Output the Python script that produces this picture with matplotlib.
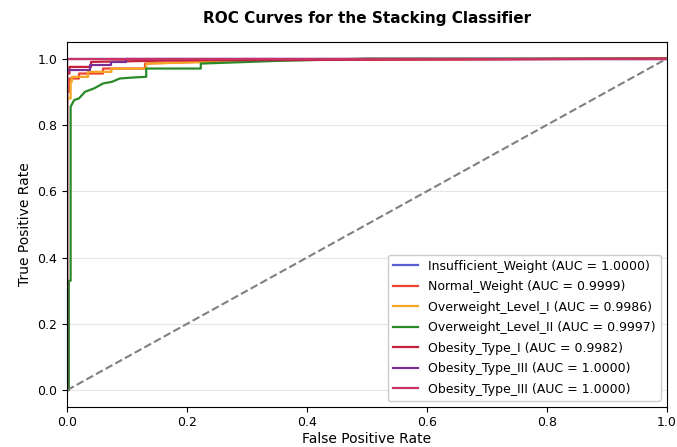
import matplotlib.pyplot as plt

# ROC points (FPR, TPR) for each class
classes = ['Insufficient_Weight', 'Normal_Weight', 'Overweight_Level_I',
           'Overweight_Level_II', 'Obesity_Type_I', 'Obesity_Type_III',
           'Obesity_Type_III']
aucs = [1.0000, 0.9999, 0.9986, 0.9997, 0.9982, 1.0000, 1.0000]
colors = ['#5b5bd6', '#ee4433', '#f5a623', '#2a8a2a', '#c8203c', '#7a2f96', '#c83264']

fpr_insuff = [0.0, 0.0, 1.0]
tpr_insuff = [0.0, 1.0, 1.0]

fpr_normal = [0.0, 0.0, 0.004, 0.004, 0.02, 0.02, 0.06, 0.06, 0.13, 0.13, 0.3, 1.0]
tpr_normal = [0.0, 0.90, 0.90, 0.94, 0.94, 0.955, 0.955, 0.97, 0.97, 0.985, 0.995, 1.0]

fpr_ow1 = [0.0, 0.0, 0.006, 0.006, 0.008, 0.008, 0.035, 0.035, 0.074, 0.074, 0.132, 0.132, 0.4, 1.0]
tpr_ow1 = [0.0, 0.88, 0.88, 0.93, 0.93, 0.945, 0.945, 0.96, 0.96, 0.97, 0.97, 0.985, 0.997, 1.0]

fpr_ow2 = [0.0, 0.003, 0.003, 0.006, 0.006, 0.012, 0.02, 0.03, 0.045, 0.06, 0.075, 0.088,
           0.11, 0.132, 0.132, 0.223, 0.223, 0.35, 0.5, 1.0]
tpr_ow2 = [0.0, 0.0, 0.33, 0.33, 0.855, 0.875, 0.88, 0.90, 0.91, 0.925, 0.93, 0.94,
           0.943, 0.945, 0.97, 0.97, 0.985, 0.993, 1.0, 1.0]

fpr_ob1 = [0.0, 0.0, 0.004, 0.004, 0.04, 0.04, 0.2, 1.0]
tpr_ob1 = [0.0, 0.955, 0.955, 0.975, 0.975, 0.99, 0.995, 1.0]

fpr_ob3a = [0.0, 0.0, 0.038, 0.038, 0.074, 0.074, 0.099, 0.099, 1.0]
tpr_ob3a = [0.0, 0.965, 0.965, 0.98, 0.98, 0.99, 0.99, 1.0, 1.0]

fpr_ob3b = [0.0, 0.0, 1.0]
tpr_ob3b = [0.0, 1.0, 1.0]

fprs = [fpr_insuff, fpr_normal, fpr_ow1, fpr_ow2, fpr_ob1, fpr_ob3a, fpr_ob3b]
tprs = [tpr_insuff, tpr_normal, tpr_ow1, tpr_ow2, tpr_ob1, tpr_ob3a, tpr_ob3b]

fig = plt.figure(figsize=(6.77, 4.47), dpi=100)
ax = fig.add_axes([0.099, 0.09, 0.886, 0.816])

for name, auc, c, f, t in zip(classes, aucs, colors, fprs, tprs):
    ax.plot(f, t, color=c, lw=1.6, label=f'{name} (AUC = {auc:.4f})')

ax.plot([0, 1], [0, 1], color='gray', linestyle='--', lw=1.5)

ax.set_xlim(0, 1)
ax.set_ylim(-0.05, 1.05)
ax.grid(axis='y', color='#e6e6e6', lw=0.8)
ax.set_axisbelow(True)
ax.set_xlabel('False Positive Rate', fontsize=10, labelpad=2)
ax.set_ylabel('True Positive Rate', fontsize=10)
ax.set_title('ROC Curves for the Stacking Classifier', fontsize=11, fontweight='bold', pad=14)
ax.tick_params(labelsize=9)
ax.legend(loc='lower right', fontsize=9, framealpha=1, labelspacing=0.6)

plt.savefig('out.png', dpi=100)
